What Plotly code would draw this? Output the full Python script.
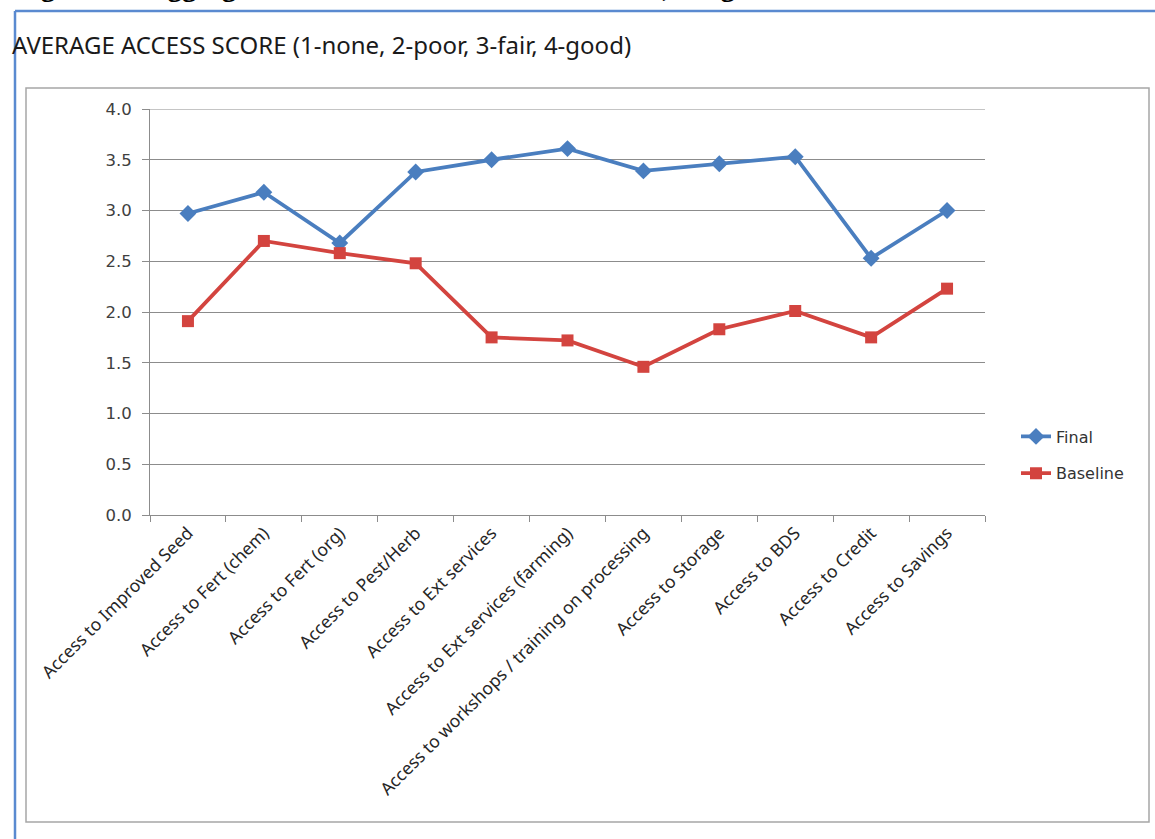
import plotly.graph_objects as go

categories = [
    "Access to Improved Seed",
    "Access to Fert (chem)",
    "Access to Fert (org)",
    "Access to Pest/Herb",
    "Access to Ext services",
    "Access to Ext services (farming)",
    "Access to workshops / training on processing",
    "Access to Storage",
    "Access to BDS",
    "Access to Credit",
    "Access to Savings",
]
final_vals = [2.97, 3.18, 2.68, 3.38, 3.50, 3.61, 3.39, 3.46, 3.53, 2.53, 3.00]
baseline_vals = [1.91, 2.70, 2.58, 2.48, 1.75, 1.72, 1.46, 1.83, 2.01, 1.75, 2.23]
y_ticks = [0.0, 0.5, 1.0, 1.5, 2.0, 2.5, 3.0, 3.5, 4.0]

W, H = 1155, 839
L, R, T, B = 150, 985, 109, 515  # plot area pixels


def px(x):
    return (x - L) / (R - L)


def py(y):
    return (B - y) / (B - T)


blue = "#4a7ebf"
red = "#d3443f"

fig = go.Figure()
fig.add_trace(go.Scatter(
    x=categories, y=final_vals, name="Final", mode="lines+markers",
    line=dict(color=blue, width=3.8),
    marker=dict(symbol="diamond", size=13, color=blue),
    legendgroup="a",
))
fig.add_trace(go.Scatter(
    x=categories, y=baseline_vals, name="Baseline", mode="lines+markers",
    line=dict(color=red, width=3.8),
    marker=dict(symbol="square", size=12, color=red),
    legendgroup="b",
))

grid = "#8c8c8c"
fig.update_layout(
    width=W, height=H,
    margin=dict(l=L, r=W - R, t=T, b=H - B),
    paper_bgcolor="white", plot_bgcolor="white",
    showlegend=True,
    legend=dict(
        x=px(1016), y=py(455), xanchor="left", yanchor="middle",
        font=dict(family="DejaVu Sans", size=16, color="#333333"),
        tracegroupgap=13, traceorder="grouped",
        bgcolor="rgba(0,0,0,0)",
    ),
    xaxis=dict(
        type="category", range=[-0.5, len(categories) - 0.5],
        showline=True, linecolor=grid, linewidth=1,
        ticks="outside", ticklen=6, tickcolor=grid, tickson="boundaries",
        showgrid=False, tickangle=-45,
        tickfont=dict(family="Noto Sans", size=17.5, color="#262626"),
    ),
    yaxis=dict(
        range=[0, 4], tickvals=y_ticks, tickformat=".1f",
        showline=True, linecolor=grid, linewidth=1,
        ticks="outside", ticklen=7, tickcolor=grid,
        showgrid=True, gridcolor=grid, gridwidth=1,
        zeroline=False, ticklabelstandoff=7,
        tickfont=dict(family="DejaVu Sans", size=16.5, color="#404040"),
    ),
    shapes=[
        # top gridline at 4.0
        dict(type="line", xref="paper", yref="y", x0=0, x1=1, y0=4, y1=4,
             line=dict(color=grid, width=1), layer="below"),
        # outer blue frame
        dict(type="line", xref="paper", yref="paper",
             x0=px(15), x1=px(1165), y0=py(11), y1=py(11),
             line=dict(color="#5a8ad0", width=2.5)),
        dict(type="line", xref="paper", yref="paper",
             x0=px(15), x1=px(15), y0=py(11), y1=py(850),
             line=dict(color="#5a8ad0", width=2.5)),
        # inner chart frame
        dict(type="rect", xref="paper", yref="paper",
             x0=px(26), x1=px(1149), y0=py(88), y1=py(822),
             line=dict(color="#a6a6a6", width=1.5)),
    ],
    annotations=[
        dict(text="AVERAGE ACCESS SCORE (1-none, 2-poor, 3-fair, 4-good)",
             xref="paper", yref="paper", x=px(10), y=py(45),
             xanchor="left", yanchor="middle", showarrow=False,
             font=dict(family="Noto Sans", size=24, color="#1a1a1a")),
        dict(text="<b>Figure 11: Aggregate Access Scores at Baseline/Final, Targeted Farmers</b>",
             xref="paper", yref="paper", x=px(13), y=py(4),
             xanchor="left", yanchor="bottom", showarrow=False,
             font=dict(family="Liberation Serif", size=29, color="#000000")),
    ],
)

fig.write_html("out.html")
